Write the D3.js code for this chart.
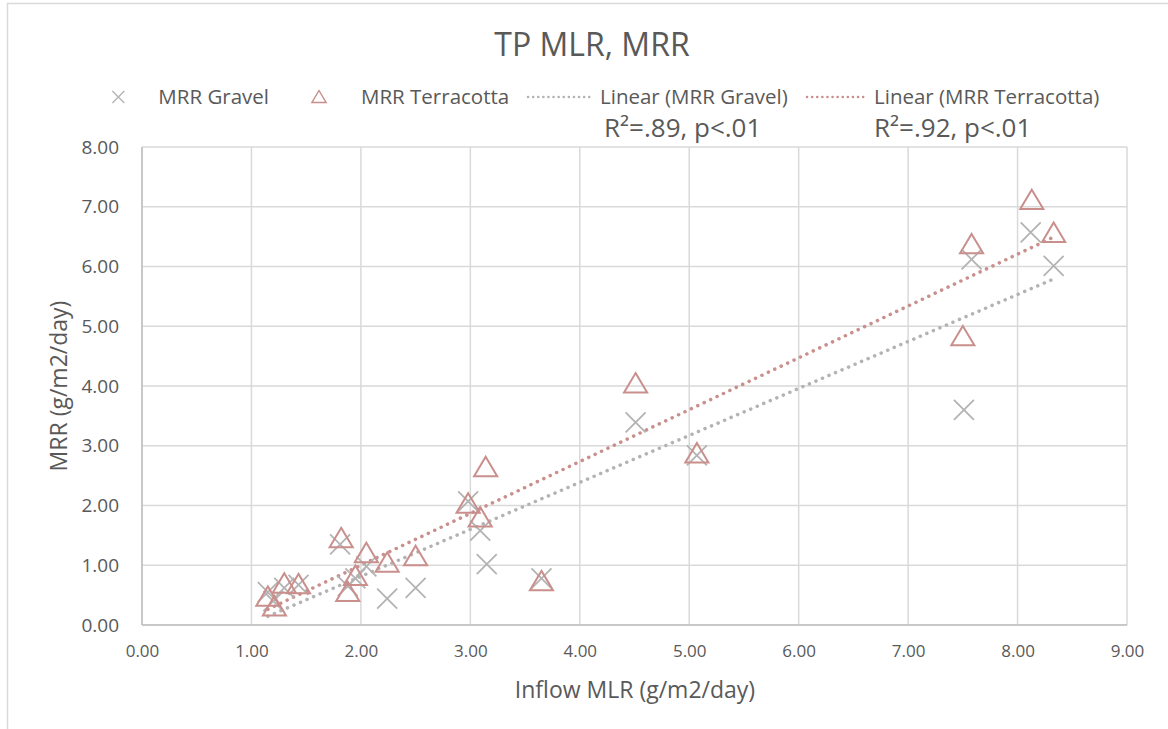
<!DOCTYPE html>
<html><head><meta charset="utf-8">
<script src="https://cdn.jsdelivr.net/npm/d3@7"></script>
<style>body{margin:0;background:#fff}svg{display:block}text{font-family:"Open Sans",sans-serif;fill:#595959}</style>
</head><body><svg id="c" width="1168" height="729"></svg>
<script>
const title = "TP MLR, MRR";
const xTicks = [0,1,2,3,4,5,6,7,8,9];
const yTicks = [0,1,2,3,4,5,6,7,8];
const gravelX = [1.15,1.20,1.30,1.43,1.81,1.88,1.95,2.05,2.24,2.50,2.98,3.09,3.15,3.65,4.51,5.07,7.51,7.58,8.12,8.33];
const gravelY = [0.55,0.40,0.62,0.67,1.35,0.65,0.78,0.98,0.44,0.62,2.07,1.58,1.02,0.78,3.39,2.84,3.60,6.12,6.57,6.01];
const terraX  = [1.15,1.21,1.30,1.43,1.82,1.88,1.95,2.05,2.24,2.50,2.98,3.09,3.14,3.65,4.51,5.07,7.50,7.58,8.13,8.33];
const terraY  = [0.47,0.31,0.69,0.68,1.45,0.55,0.82,1.20,1.04,1.15,2.03,1.80,2.64,0.73,4.04,2.87,4.83,6.37,7.11,6.56];
const legendLabels = ["MRR Gravel","MRR Terracotta","Linear (MRR Gravel)","Linear (MRR Terracotta)"];
const r2Labels = ["R\u00B2=.89, p<.01","R\u00B2=.92, p<.01"];

const gravelCol = "#b3b3b3", terraCol = "#c98f8c";
const svg = d3.select("#c");
const L=142,R=1127,T=147,B=625;
const x = d3.scaleLinear().domain([0,9]).range([L,R]);
const y = d3.scaleLinear().domain([0,8]).range([B,T]);

// chart border
svg.append("line").attr("x1",7).attr("x2",1168).attr("y1",3.5).attr("y2",3.5).attr("stroke","#d9d9d9").attr("stroke-width",1.5);
svg.append("line").attr("x1",7.5).attr("x2",7.5).attr("y1",3).attr("y2",729).attr("stroke","#d9d9d9").attr("stroke-width",1.5);

// gridlines
svg.append("g").selectAll("line").data(yTicks).join("line")
  .attr("x1",L).attr("x2",R).attr("y1",d=>y(d)).attr("y2",d=>y(d)).attr("stroke","#d9d9d9").attr("stroke-width",1.5);
svg.append("g").selectAll("line").data(xTicks).join("line")
  .attr("y1",T).attr("y2",B).attr("x1",d=>x(d)).attr("x2",d=>x(d)).attr("stroke","#d9d9d9").attr("stroke-width",1.5);
svg.append("line").attr("x1",L).attr("x2",R).attr("y1",B).attr("y2",B).attr("stroke","#bfbfbf").attr("stroke-width",1.5);
svg.append("line").attr("x1",L).attr("x2",L).attr("y1",T).attr("y2",B).attr("stroke","#bfbfbf").attr("stroke-width",1.5);

// axes labels via d3 axes
const xa = svg.append("g").attr("transform",`translate(0,${B})`)
  .call(d3.axisBottom(x).tickValues(xTicks).tickFormat(d3.format(".2f")).tickSize(0).tickPadding(20));
xa.select(".domain").remove();
xa.selectAll("text").style("font-family","'Open Sans',sans-serif").style("font-size","17px").attr("fill","#595959");
const ya = svg.append("g").attr("transform",`translate(${L},0)`)
  .call(d3.axisLeft(y).tickValues(yTicks).tickFormat(d3.format(".2f")).tickSize(0).tickPadding(23));
ya.select(".domain").remove();
ya.selectAll("text").style("font-family","'Open Sans',sans-serif").style("font-size","19px").attr("fill","#595959");

// axis titles
svg.append("text").attr("x",635).attr("y",698).attr("text-anchor","middle").style("font-size","23px").text("Inflow MLR (g/m2/day)");
svg.append("text").attr("transform",`translate(67,386) rotate(-90)`).attr("text-anchor","middle").style("font-size","23px").text("MRR (g/m2/day)");

// title
svg.append("text").attr("x",592).attr("y",56).attr("text-anchor","middle").style("font-size","32px").text(title);

// trendlines (least squares)
function fit(xs,ys){
  const mx=d3.mean(xs), my=d3.mean(ys);
  let sxy=0,sxx=0; xs.forEach((v,i)=>{sxy+=(v-mx)*(ys[i]-my);sxx+=(v-mx)*(v-mx);});
  const b=sxy/sxx, a=my-b*mx; const x0=d3.min(xs), x1=d3.max(xs);
  return [[x0,a+b*x0],[x1,a+b*x1]];
}
const line = d3.line().x(d=>x(d[0])).y(d=>y(d[1]));
svg.append("path").attr("d",line(fit(gravelX,gravelY))).attr("stroke",gravelCol).attr("stroke-width",3.5)
  .attr("stroke-dasharray","0.1 7").attr("stroke-linecap","round").attr("fill","none");
svg.append("path").attr("d",line(fit(terraX,terraY))).attr("stroke",terraCol).attr("stroke-width",3.5)
  .attr("stroke-dasharray","0.1 7").attr("stroke-linecap","round").attr("fill","none");

// markers
function cross(g,cx,cy,h,w){g.append("path").attr("d",`M${cx-h},${cy-h}L${cx+h},${cy+h}M${cx-h},${cy+h}L${cx+h},${cy-h}`).attr("stroke",gravelCol).attr("stroke-width",w).attr("fill","none");}
function tri(g,cx,cy,h,w){g.append("path").attr("d",`M${cx},${cy-h}L${cx+h*1.1},${cy+h*0.85}L${cx-h*1.1},${cy+h*0.85}Z`).attr("stroke",terraCol).attr("stroke-width",w).attr("fill","none");}
const gG = svg.append("g");
gravelX.forEach((v,i)=>cross(gG,x(v),y(gravelY[i]),10,1.8));
const gT = svg.append("g");
terraX.forEach((v,i)=>tri(gT,x(v),y(terraY[i]),10.5,2));

// legend
const lg = svg.append("g");
const t0 = lg.append("text").attr("x",269).attr("y",104).attr("text-anchor","end").style("font-size","20.5px").text(legendLabels[0]);
const t0w = t0.node().getComputedTextLength();
cross(lg,269-t0w-40,97,6,1.3);
tri(lg,319,97,6.5,1.4);
lg.append("text").attr("x",361).attr("y",104).style("font-size","20.5px").text(legendLabels[1]);
lg.append("line").attr("x1",528).attr("x2",592).attr("y1",97).attr("y2",97).attr("stroke",gravelCol).attr("stroke-width",2.5).attr("stroke-dasharray","0.1 5").attr("stroke-linecap","round");
lg.append("text").attr("x",600).attr("y",104).style("font-size","20.5px").text(legendLabels[2]);
lg.append("line").attr("x1",807).attr("x2",867).attr("y1",97).attr("y2",97).attr("stroke",terraCol).attr("stroke-width",2.5).attr("stroke-dasharray","0.1 5").attr("stroke-linecap","round");
lg.append("text").attr("x",874).attr("y",104).style("font-size","20.5px").text(legendLabels[3]);
lg.append("text").attr("x",604).attr("y",137).style("font-size","26px").text(r2Labels[0]);
lg.append("text").attr("x",874).attr("y",137).style("font-size","26px").text(r2Labels[1]);
</script></body></html>
